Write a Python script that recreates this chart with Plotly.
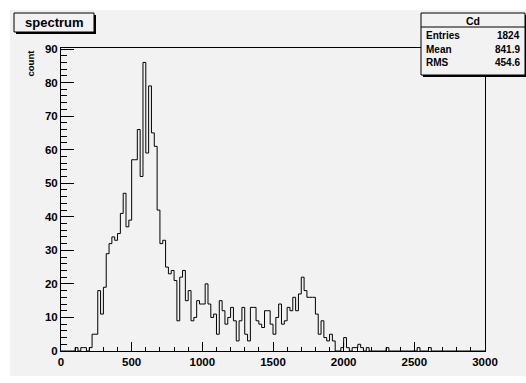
import numpy as np
import plotly.graph_objects as go

# ---- data ----
x_min = 0
x_max = 3000
bin_width = 20
counts = [
    0, 0, 0, 0, 0, 1, 0, 1, 1, 0,          # 0 - 180
    1, 5, 5, 18, 11, 19, 29, 32, 34, 33,   # 200 - 380
    35, 41, 47, 37, 39, 57, 57, 66, 52, 86,  # 400 - 580
    59, 79, 65, 61, 42, 32, 33, 25, 23, 24,  # 600 - 780
    21, 9, 22, 24, 15, 18, 9, 10, 15, 14,    # 800 - 980
    14, 20, 14, 10, 11, 5, 15, 12, 8, 10,    # 1000 - 1180
    13, 9, 3, 9, 13, 5, 3, 13, 13, 9,        # 1200 - 1380
    8, 7, 12, 12, 8, 5, 10, 14, 8, 9,        # 1400 - 1580
    13, 12, 16, 12, 17, 22, 18, 16, 16, 16,  # 1600 - 1780
    11, 5, 9, 4, 3, 5, 3, 0, 0, 1,           # 1800 - 1980
    4, 1, 0, 1, 1, 2, 1, 0, 1, 0,            # 2000 - 2180
    0, 0, 0, 0, 0, 1, 0, 0, 0, 0,            # 2200 - 2380
    0, 0, 0, 0, 0, 0, 1, 0, 0, 0,            # 2400 - 2580
    1, 0, 0, 0, 0, 0, 0, 0, 0, 0,            # 2600 - 2780
    0, 0, 0, 0, 0, 0, 0, 0, 0, 0,            # 2800 - 2980
]
x_ticks = [0, 500, 1000, 1500, 2000, 2500, 3000]
y_ticks = [0, 10, 20, 30, 40, 50, 60, 70, 80, 90]
hist_title = "spectrum"
y_title = "count"
stats_name = "Cd"
stats_labels = ["Entries", "Mean", "RMS"]
stats_values = ["1824", "841.9", "454.6"]

# ---- layout geometry (pixels) ----
W, H = 526, 383
L, R, T, B = 61, 485, 48, 351
FW, FH = R - L, B - T
BG = "rgb(242,242,242)"
FONT = "Liberation Sans"


def px(x):
    return (x - L) / FW


def py(y):
    return (B - y) / FH


edges = x_min + bin_width * np.arange(len(counts) + 1)
yvals = list(counts) + [counts[-1]]

fig = go.Figure()
fig.add_trace(go.Scatter(
    x=edges, y=yvals, mode="lines", line=dict(shape="hv", color="black", width=1),
    showlegend=False, hoverinfo="skip"))

shapes = []
# canvas background
shapes.append(dict(type="rect", xref="paper", yref="paper", layer="below",
                   x0=px(10), x1=px(540), y0=py(376), y1=py(10),
                   fillcolor=BG, line=dict(width=0)))
# title box with shadow
shapes.append(dict(type="rect", xref="paper", yref="paper",
                   x0=px(16), x1=px(96), y0=py(34), y1=py(15),
                   fillcolor="black", line=dict(width=0)))
shapes.append(dict(type="rect", xref="paper", yref="paper",
                   x0=px(14), x1=px(94), y0=py(32), y1=py(13),
                   fillcolor=BG, line=dict(color="black", width=1)))
# stats box with shadow
shapes.append(dict(type="rect", xref="paper", yref="paper",
                   x0=px(423), x1=px(530), y0=py(77), y1=py(15),
                   fillcolor="black", line=dict(width=0)))
shapes.append(dict(type="rect", xref="paper", yref="paper",
                   x0=px(421), x1=px(525), y0=py(75), y1=py(13),
                   fillcolor=BG, line=dict(color="black", width=1)))
shapes.append(dict(type="line", xref="paper", yref="paper",
                   x0=px(421), x1=px(525), y0=py(27), y1=py(27),
                   line=dict(color="black", width=1)))

annotations = []
annotations.append(dict(text=hist_title, xref="paper", yref="paper",
                        x=px(54), y=py(22.5), xanchor="center", yanchor="middle",
                        showarrow=False,
                        font=dict(family=FONT, size=13, color="black", weight="bold")))
annotations.append(dict(text=y_title, xref="paper", yref="paper",
                        x=px(30), y=py(48), xanchor="center", yanchor="top",
                        textangle=-90, showarrow=False,
                        font=dict(family=FONT, size=9.5, color="black", weight="bold")))
annotations.append(dict(text=stats_name, xref="paper", yref="paper",
                        x=px(473), y=py(20.5), xanchor="center", yanchor="middle",
                        showarrow=False,
                        font=dict(family=FONT, size=10.5, color="black", weight="bold")))
row_y = [36, 49, 62]
for lab, val, ry in zip(stats_labels, stats_values, row_y):
    annotations.append(dict(text=lab, xref="paper", yref="paper",
                            x=px(424), y=py(ry), xanchor="left", yanchor="middle",
                            showarrow=False,
                            font=dict(family=FONT, size=10, color="black", weight="bold")))
    annotations.append(dict(text=val, xref="paper", yref="paper",
                            x=px(522), y=py(ry), xanchor="right", yanchor="middle",
                            showarrow=False,
                            font=dict(family=FONT, size=10, color="black", weight="bold")))

tickfont = dict(family=FONT, size=11.5, color="black", weight="bold")

fig.update_layout(
    width=W, height=H,
    margin=dict(l=L, r=W - R, t=T, b=H - B, pad=0),
    paper_bgcolor="white",
    plot_bgcolor="rgba(0,0,0,0)",
    shapes=shapes,
    annotations=annotations,
    xaxis=dict(range=[x_min, x_max], tickvals=x_ticks, ticks="inside", ticklen=9,
               tickwidth=1, tickcolor="black", showline=True, linecolor="black",
               linewidth=1, mirror=True, showgrid=False, zeroline=False,
               tickfont=tickfont,
               minor=dict(dtick=100, ticks="inside", ticklen=4.5, tickcolor="black",
                          tickwidth=1, showgrid=False)),
    yaxis=dict(range=[0, 90.3], tickvals=y_ticks, ticks="inside", ticklen=12.6,
               tickwidth=1, tickcolor="black", showline=True, linecolor="black",
               linewidth=1, mirror=True, showgrid=False, zeroline=False,
               tickfont=tickfont,
               minor=dict(dtick=2, ticks="inside", ticklen=6.3, tickcolor="black",
                          tickwidth=1, showgrid=False)),
)

fig.write_html("out.html")
